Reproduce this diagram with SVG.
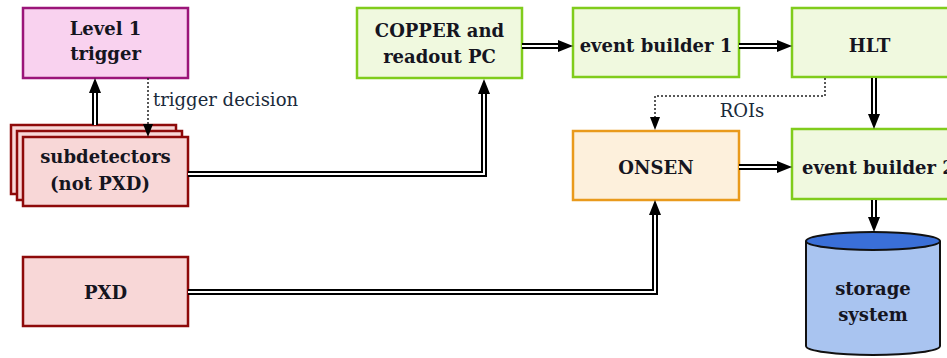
<svg xmlns="http://www.w3.org/2000/svg" width="947" height="358" viewBox="0 0 947 358">
<style>
.lbl{font-family:"DejaVu Serif","Liberation Serif",serif;font-weight:bold;font-size:18px;fill:#15151f;text-anchor:middle}
.note{font-family:"DejaVu Serif","Liberation Serif",serif;font-size:18px;fill:#1a2a3a}
.trig{fill:#f9d2ef;stroke:#9b1579;stroke-width:2.5}
.det{fill:#f8d7d7;stroke:#8e0a0a;stroke-width:2.5}
.grn{fill:#f0f9df;stroke:#80cc1c;stroke-width:2.5}
.org{fill:#fdf0dc;stroke:#e99a1c;stroke-width:2.5}
.outer{fill:none;stroke:#000;stroke-width:6}
.inner{fill:none;stroke:#fff;stroke-width:2}
.dot{fill:none;stroke:#222;stroke-width:1.5;stroke-dasharray:2 2}
.head{fill:#000}
</style>
<g id="level1">
<rect class="trig" x="23" y="8" width="165" height="70"/>
<text class="lbl" x="105.5" y="35">Level 1</text>
<text class="lbl" x="105.5" y="60">trigger</text>
</g>
<g id="subdetectors">
<rect class="det" x="11" y="125" width="165" height="69"/>
<rect class="det" x="17" y="131" width="165" height="69"/>
<rect class="det" x="23" y="137" width="165" height="69"/>
<text class="lbl" x="105.5" y="163">subdetectors</text>
<text class="lbl" x="100" y="190">(not PXD)</text>
</g>
<g id="pxd">
<rect class="det" x="23" y="257" width="165" height="69"/>
<text class="lbl" x="105.5" y="299">PXD</text>
</g>
<g id="copper">
<rect class="grn" x="357" y="8" width="165" height="70"/>
<text class="lbl" x="439.5" y="37">COPPER and</text>
<text class="lbl" x="439.5" y="63">readout PC</text>
</g>
<g id="eb1">
<rect class="grn" x="573" y="8" width="166" height="69"/>
<text class="lbl" x="656" y="52">event builder 1</text>
</g>
<g id="hlt">
<rect class="grn" x="792" y="8" width="160" height="69"/>
<text class="lbl" x="869.5" y="52">HLT</text>
</g>
<g id="onsen">
<rect class="org" x="573" y="131" width="166" height="69"/>
<text class="lbl" x="656" y="174">ONSEN</text>
</g>
<g id="eb2">
<rect class="grn" x="792" y="129" width="160" height="70"/>
<text class="lbl" x="802" y="174" style="text-anchor:start">event builder 2</text>
</g>
<g id="storage">
<path d="M806,241 V346 A67,9 0 0 0 940,346 V241" fill="#a9c4f0" stroke="#111" stroke-width="2"/>
<ellipse cx="873" cy="241" rx="67" ry="9" fill="#3a6fd8" stroke="#111" stroke-width="2"/>
<text class="lbl" x="873" y="295">storage</text>
<text class="lbl" x="873" y="321">system</text>
</g>
<g id="connectors">
<path class="outer" d="M95,125 V92"/><path class="inner" d="M95,125 V92"/>
<polygon class="head" points="95,78 89,93 101,93"/>
<path class="dot" d="M148,78 V125"/>
<polygon class="head" points="148,137 143,124 153,124"/>
<text class="note" x="153" y="106">trigger decision</text>
<path class="outer" d="M188,174 H484 V93"/><path class="inner" d="M188,174 H484 V93"/>
<polygon class="head" points="484,79 478,94 490,94"/>
<path class="outer" d="M522,46 H559"/><path class="inner" d="M522,46 H559"/>
<polygon class="head" points="573,46 558,40 558,52"/>
<path class="outer" d="M739,46 H778"/><path class="inner" d="M739,46 H778"/>
<polygon class="head" points="792,46 777,40 777,52"/>
<path class="dot" d="M825,78 V96 H655 V118"/>
<polygon class="head" points="655,130 650,117 660,117"/>
<text class="note" x="742" y="117" style="text-anchor:middle">ROIs</text>
<path class="outer" d="M874,78 V115"/><path class="inner" d="M874,78 V115"/>
<polygon class="head" points="874,129 868,114 880,114"/>
<path class="outer" d="M739,167 H778"/><path class="inner" d="M739,167 H778"/>
<polygon class="head" points="792,167 777,161 777,173"/>
<path class="outer" d="M874,200 V218"/><path class="inner" d="M874,200 V218"/>
<polygon class="head" points="874,232 868,217 880,217"/>
<path class="outer" d="M188,292 H655 V214"/><path class="inner" d="M188,292 H655 V214"/>
<polygon class="head" points="655,200 649,215 661,215"/>
</g>
</svg>
